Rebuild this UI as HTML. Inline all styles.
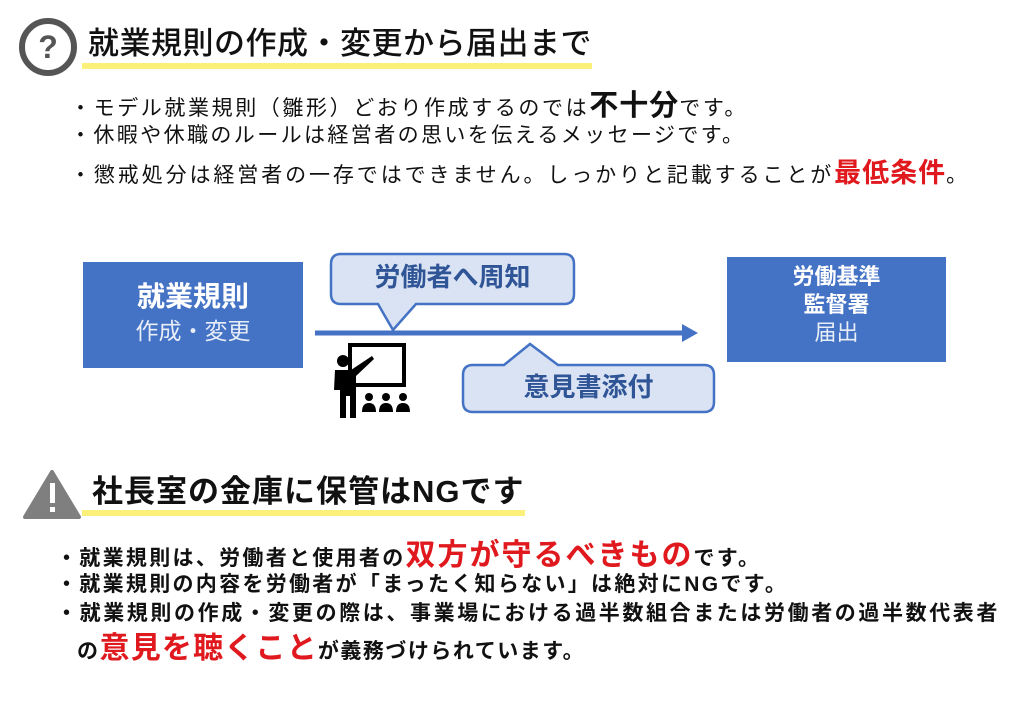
<!DOCTYPE html>
<html><head><meta charset="utf-8"><style>
body{margin:0;width:1024px;height:709px;background:#fff;position:relative;overflow:hidden;font-family:"Liberation Sans","Noto Sans CJK JP",sans-serif;color:#111}
.a{position:absolute;white-space:nowrap;line-height:1}
.r{color:#e0191e;font-weight:bold}
.ul{position:absolute;background:#fbf07a}
</style></head><body>
<svg class="a" style="left:18px;top:17px" width="60" height="60"><circle cx="30" cy="30" r="26" fill="none" stroke="#555" stroke-width="6"/><text x="30" y="41" text-anchor="middle" font-size="32" font-weight="bold" fill="#555" font-family="Liberation Sans">?</text></svg>
<div class="ul" style="left:82px;top:63px;width:510px;height:6px"></div>
<div class="a" style="left:88px;top:28px;font-size:31px;letter-spacing:0.5px;font-weight:500">就業規則の作成・変更から届出まで</div>

<div class="a" style="left:70px;top:92px;font-size:21px;letter-spacing:2.6px">・モデル就業規則（雛形）どおり作成するのでは<span style="font-size:29px;letter-spacing:1px;font-weight:bold">不十分</span>です。</div>
<div class="a" style="left:70px;top:125px;font-size:21px;letter-spacing:2.4px">・休暇や休職のルールは経営者の思いを伝えるメッセージです。</div>
<div class="a" style="left:70px;top:160px;font-size:21px;letter-spacing:2.9px">・懲戒処分は経営者の一存ではできません。しっかりと記載することが<span class="r" style="font-size:27px;letter-spacing:1px">最低条件</span>。</div>

<svg class="a" style="left:0;top:0" width="1024" height="709">
<rect x="83" y="262" width="220" height="106" fill="#4472c4"/>
<rect x="727" y="257" width="219" height="105" fill="#4472c4"/>
<line x1="315" y1="333" x2="684" y2="333" stroke="#4472c4" stroke-width="5"/>
<polygon points="682,324 698,333 682,342" fill="#4472c4"/>
<path d="M341,254 H564 Q574,254 574,264 V294 Q574,304 564,304 H416 L393,330 L378,304 H341 Q331,304 331,294 V264 Q331,254 341,254 Z" fill="#dae3f3" stroke="#4472c4" stroke-width="2.5"/>
<path d="M473,365 H504 L530,344 L558,365 H704 Q714,365 714,375 V402 Q714,412 704,412 H473 Q463,412 463,402 V375 Q463,365 473,365 Z" fill="#dae3f3" stroke="#4472c4" stroke-width="2.5"/>
<rect x="350" y="345" width="54" height="40" fill="none" stroke="#000" stroke-width="4"/>
<circle cx="343" cy="361" r="6" fill="#000"/>
<path d="M335,370 H351 L372,356 L374,359 L356,376 V418 H350 V396 H346 V418 H340 V390 H334 Z" fill="#000"/>
<circle cx="369" cy="397" r="4" fill="#000"/><path d="M362,412 Q362,403 369,403 Q376,403 376,412 Z" fill="#000"/>
<circle cx="386" cy="397" r="4" fill="#000"/><path d="M379,412 Q379,403 386,403 Q393,403 393,412 Z" fill="#000"/>
<circle cx="403" cy="397" r="4" fill="#000"/><path d="M396,412 Q396,403 403,403 Q410,403 410,412 Z" fill="#000"/>
<path d="M52,472 L79,517 H25 Z" fill="#7f7f7f" stroke="#7f7f7f" stroke-width="4" stroke-linejoin="round"/>
<rect x="50" y="483" width="5" height="20" fill="#fff"/><rect x="50" y="507" width="5" height="5" fill="#fff"/>
</svg>
<div class="a" style="left:83px;top:262px;width:220px;text-align:center;color:#fff">
<div style="margin-top:21px;font-size:28px;font-weight:bold">就業規則</div>
<div style="margin-top:9px;font-size:23px;color:#e8eef8">作成・変更</div></div>
<div class="a" style="left:727px;top:257px;width:219px;text-align:center;color:#fff">
<div style="margin-top:9px;font-size:22px;font-weight:bold">労働基準</div>
<div style="margin-top:6px;font-size:22px;font-weight:bold">監督署</div>
<div style="margin-top:6px;font-size:22px;color:#e8eef8">届出</div></div>
<div class="a" style="left:331px;top:264px;width:243px;text-align:center;font-size:26px;font-weight:bold;color:#2f5597">労働者へ周知</div>
<div class="a" style="left:463px;top:374px;width:251px;text-align:center;font-size:26px;font-weight:bold;color:#2f5597">意見書添付</div>

<div class="ul" style="left:82px;top:510px;width:443px;height:6px"></div>
<div class="a" style="left:92px;top:476px;font-size:31px;font-weight:bold;letter-spacing:1px">社長室の金庫に保管はNGです</div>

<div class="a" style="left:56px;top:541px;font-size:21px;font-weight:bold;letter-spacing:2.3px">・就業規則は、労働者と使用者の<span class="r" style="font-size:30px;letter-spacing:2px">双方が守るべきもの</span>です。</div>
<div class="a" style="left:56px;top:574px;font-size:21px;font-weight:bold;letter-spacing:2.3px">・就業規則の内容を労働者が「まったく知らない」は絶対にNGです。</div>
<div class="a" style="left:56px;top:603px;font-size:21px;font-weight:bold;letter-spacing:2.6px">・就業規則の作成・変更の際は、事業場における過半数組合または労働者の過半数代表者</div>
<div class="a" style="left:77px;top:634px;font-size:21px;font-weight:bold;letter-spacing:1.5px">の<span class="r" style="font-size:30px;letter-spacing:1.2px">意見を聴くこと</span>が義務づけられています。</div>
</body></html>
